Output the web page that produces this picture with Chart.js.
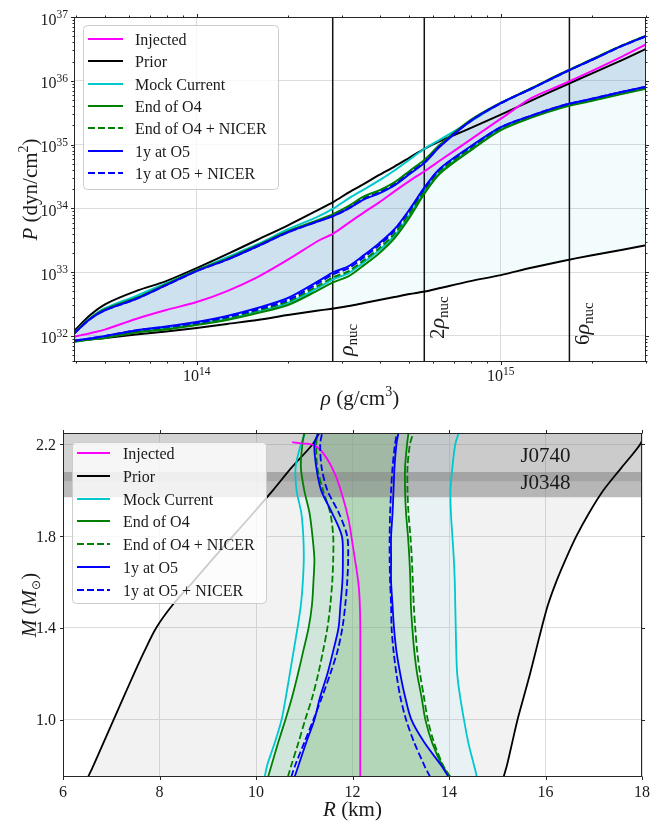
<!DOCTYPE html>
<html><head><meta charset="utf-8">
<script src="https://cdn.jsdelivr.net/npm/chart.js@4.4.1/dist/chart.umd.min.js"></script>
<style>
html,body{margin:0;padding:0;background:#fff;}
body{width:652px;height:823px;position:relative;overflow:hidden;}
canvas{position:absolute;left:0;display:block;}
#c1{top:0;} #c2{top:411px;}
</style></head><body>
<canvas id="c1" width="652" height="411"></canvas>
<canvas id="c2" width="652" height="412"></canvas>
<script>
// ================= DATA =================
const seriesNames = ['Injected','Prior','Mock Current','End of O4','End of O4 + NICER','1y at O5','1y at O5 + NICER'];

// ---- Top panel: pressure vs density (log10 values) ----
const logRho = [13.597,13.65,13.7,13.8,13.9,14.0,14.1,14.2,14.3,14.4,14.45,14.5,14.55,14.6,14.65,14.7,14.75,14.8,14.9,15.0,15.1,15.2,15.3,15.4,15.477];
const injLogP     = [31.988,32.042,32.102,32.266,32.406,32.531,32.703,32.922,33.195,33.492,33.609,33.773,33.938,34.094,34.266,34.43,34.586,34.75,35.078,35.406,35.727,35.938,36.156,36.383,36.57];
const priorHiLogP = [32.078,32.328,32.5,32.703,32.859,33.063,33.281,33.508,33.734,33.977,34.102,34.25,34.383,34.523,34.656,34.797,34.938,35.055,35.258,35.469,35.688,35.906,36.117,36.328,36.5];
const priorLoLogP = [31.923,31.945,31.969,32.023,32.07,32.125,32.188,32.25,32.328,32.398,32.43,32.469,32.516,32.563,32.609,32.656,32.695,32.75,32.859,32.953,33.07,33.172,33.266,33.352,33.422];
const mockHiLogP  = [32.047,32.281,32.438,32.625,32.828,33.031,33.234,33.438,33.672,33.875,34.0,34.156,34.297,34.438,34.594,34.766,34.938,35.078,35.359,35.648,35.875,36.11,36.33,36.55,36.70];
const mockLoLogP  = [31.909,31.945,31.977,32.063,32.117,32.188,32.266,32.383,32.516,32.757,32.891,32.985,33.157,33.344,33.57,33.898,34.273,34.57,34.922,35.242,35.43,35.586,35.696,35.805,35.883];
const o4HiLogP    = [32.047,32.274,32.422,32.594,32.813,33.032,33.211,33.422,33.641,33.82,33.914,34.039,34.188,34.281,34.406,34.586,34.766,35.0,35.383,35.656,35.883,36.118,36.338,36.558,36.708];
const o4LoLogP    = [31.909,31.945,31.969,32.055,32.101,32.172,32.25,32.36,32.485,32.718,32.844,32.938,33.11,33.297,33.531,33.859,34.242,34.547,34.906,35.226,35.422,35.578,35.688,35.797,35.875];
const o4nHiLogP   = [32.043,32.27,32.414,32.586,32.805,33.024,33.203,33.414,33.633,33.808,33.898,34.02,34.164,34.258,34.383,34.562,34.742,34.984,35.375,35.652,35.879,36.114,36.334,36.554,36.704];
const o4nLoLogP   = [31.917,31.953,31.984,32.07,32.125,32.196,32.282,32.399,32.539,32.789,32.922,33.016,33.188,33.375,33.602,33.922,34.289,34.586,34.938,35.25,35.437,35.593,35.703,35.812,35.89];
const o5HiLogP    = [32.039,32.266,32.406,32.578,32.797,33.016,33.195,33.406,33.625,33.797,33.883,34.0,34.141,34.234,34.359,34.539,34.719,34.969,35.367,35.648,35.875,36.11,36.33,36.55,36.70];
const o5LoLogP    = [31.925,31.961,32.0,32.086,32.148,32.219,32.313,32.438,32.594,32.859,33.0,33.094,33.266,33.453,33.672,33.984,34.336,34.625,34.969,35.273,35.453,35.609,35.719,35.828,35.906];
const o5nHiLogP   = [32.039,32.266,32.406,32.578,32.797,33.016,33.195,33.406,33.625,33.797,33.883,34.0,34.145,34.242,34.367,34.547,34.727,34.977,35.367,35.648,35.875,36.11,36.33,36.55,36.70];
const o5nLoLogP   = [31.925,31.961,32.0,32.086,32.14,32.203,32.297,32.415,32.563,32.828,32.969,33.063,33.235,33.422,33.649,33.969,34.32,34.617,34.961,35.273,35.453,35.609,35.719,35.828,35.906];
const rhoNuc = 2.8e14;
const nucMultiples = [1, 2, 6];
const rhoMin = 3.95e13, rhoMax = 3.0e15, pMin = 3.9e31, pMax = 1e37;
const rhoTickExp = [14, 15];
const pTickExp = [32, 33, 34, 35, 36, 37];

// ---- Bottom panel: mass vs radius ----
const mGrid   = [0.75,0.8,0.9,1.0,1.1,1.2,1.3,1.4,1.5,1.6,1.7,1.8,1.9,2.0,2.1,2.2,2.25];
const priorLoR = [6.52,6.63,6.84,7.05,7.26,7.47,7.69,7.93,8.27,8.69,9.10,9.52,9.94,10.35,10.74,11.17,11.31];
const priorHiR = [15.13,15.20,15.31,15.42,15.55,15.68,15.80,15.92,16.05,16.22,16.42,16.64,16.90,17.20,17.58,17.96,18.06];
const mockLoR  = [10.18,10.23,10.39,10.53,10.62,10.70,10.78,10.86,10.93,10.97,10.99,10.98,10.94,10.84,10.82,10.93,11.02];
const mockHiR  = [14.58,14.52,14.40,14.31,14.23,14.17,14.15,14.14,14.13,14.12,14.10,14.07,14.04,14.03,14.07,14.13,14.20];
const o4LoR    = [10.25,10.32,10.46,10.61,10.75,10.87,10.98,11.09,11.16,11.19,11.21,11.17,11.11,11.00,10.93,10.96,11.00];
const o4HiR    = [14.03,13.86,13.65,13.51,13.43,13.34,13.28,13.24,13.21,13.20,13.18,13.15,13.11,13.09,13.09,13.13,13.16];
const o4nLoR   = [10.66,10.73,10.88,11.02,11.17,11.29,11.39,11.48,11.54,11.58,11.60,11.60,11.54,11.39,11.27,11.25,11.27];
const o4nHiR   = [14.03,13.88,13.69,13.56,13.48,13.40,13.34,13.30,13.27,13.25,13.23,13.20,13.16,13.14,13.14,13.19,13.26];
const o5LoR    = [10.80,10.88,11.04,11.21,11.33,11.48,11.60,11.71,11.75,11.79,11.80,11.78,11.58,11.35,11.25,11.21,11.29];
const o5HiR    = [13.99,13.84,13.49,13.22,13.09,12.99,12.91,12.86,12.83,12.80,12.80,12.80,12.83,12.85,12.87,12.91,12.95];
const o5nLoR   = [10.73,10.81,11.00,11.19,11.37,11.54,11.69,11.79,11.85,11.89,11.91,11.89,11.72,11.48,11.36,11.33,11.37];
const o5nHiR   = [13.61,13.49,13.28,13.11,12.99,12.91,12.85,12.81,12.80,12.78,12.77,12.77,12.78,12.80,12.83,12.88,12.92];
const injM = [0.75,1.1,1.43,1.58,1.74,1.87,1.97,2.07,2.16,2.197,2.205,2.21];
const injR = [12.16,12.16,12.16,12.13,12.02,11.92,11.80,11.64,11.40,11.20,10.95,10.75];
const bandNames = ['J0740', 'J0348'];
const bandLo = [2.04, 1.97];
const bandHi = [2.30, 2.08];
const rMin = 6, rMax = 18, mMin = 0.75, mMax = 2.25;
const rTicks = [6, 8, 10, 12, 14, 16, 18];
const mTicks = [1.0, 1.4, 1.8, 2.2];

// ================= STYLE =================
const seriesColors = ['#ff00ff','#000000','#00c8cc','#008000','#008000','#0000ff','#0000ff'];
const seriesDashed = [false,false,false,false,true,false,true];
const DASH = [7, 3];
const GRID = '#dcdcdc';
const TXT = '#1a1a1a';
const SERIF = '"Liberation Serif","DejaVu Serif",serif';
const fnt = (px, it) => (it ? 'italic ' : '') + px + 'px ' + SERIF;

function drawRuns(ctx, parts, x, y, align) {
  let w = 0;
  for (const p of parts) { ctx.font = p.f; p.w = ctx.measureText(p.t).width; w += p.w; }
  let cx = align === 'center' ? x - w / 2 : (align === 'right' ? x - w : x);
  ctx.textAlign = 'left'; ctx.textBaseline = 'alphabetic'; ctx.fillStyle = TXT;
  for (const p of parts) { ctx.font = p.f; ctx.fillText(p.t, cx, y + (p.dy || 0)); cx += p.w; }
}
function drawRotRuns(ctx, parts, x, y, align) {
  ctx.save(); ctx.translate(x, y); ctx.rotate(-Math.PI / 2); drawRuns(ctx, parts, 0, 0, align); ctx.restore();
}
function rrect(ctx, x, y, w, h, r) {
  ctx.beginPath();
  ctx.moveTo(x + r, y); ctx.lineTo(x + w - r, y); ctx.quadraticCurveTo(x + w, y, x + w, y + r);
  ctx.lineTo(x + w, y + h - r); ctx.quadraticCurveTo(x + w, y + h, x + w - r, y + h);
  ctx.lineTo(x + r, y + h); ctx.quadraticCurveTo(x, y + h, x, y + h - r);
  ctx.lineTo(x, y + r); ctx.quadraticCurveTo(x, y, x + r, y); ctx.closePath();
}
function drawLegend(ctx, bx, by, bw, bh, y0, dy, lx0, lx1, tx) {
  ctx.save();
  rrect(ctx, bx + 0.5, by + 0.5, bw, bh, 4);
  ctx.fillStyle = 'rgba(255,255,255,0.8)'; ctx.fill();
  ctx.strokeStyle = '#cccccc'; ctx.lineWidth = 1; ctx.stroke();
  seriesNames.forEach((name, i) => {
    const y = Math.round(y0 + i * dy);
    ctx.beginPath(); ctx.setLineDash(seriesDashed[i] ? DASH : []);
    ctx.strokeStyle = seriesColors[i]; ctx.lineWidth = 2;
    ctx.moveTo(lx0, y); ctx.lineTo(lx1, y); ctx.stroke();
    ctx.setLineDash([]);
    drawRuns(ctx, [{ t: name, f: fnt(16) }], tx, y + 5.5, 'left');
  });
  ctx.restore();
}
function frameAndTicks(ctx, ca, xp, yp) {
  ctx.save();
  ctx.strokeStyle = '#262626'; ctx.lineWidth = 1;
  const L = Math.round(ca.left) + 0.5, T = Math.round(ca.top) + 0.5, R = Math.round(ca.right) - 0.5, B = Math.round(ca.bottom) - 0.5;
  ctx.strokeRect(L, T, R - L, B - T);
  ctx.beginPath();
  for (const [p, l] of xp) { const X = Math.round(p) + 0.5; ctx.moveTo(X, B); ctx.lineTo(X, B + l); ctx.moveTo(X, T); ctx.lineTo(X, T - l); }
  for (const [p, l] of yp) { const Y = Math.round(p) + 0.5; ctx.moveTo(L, Y); ctx.lineTo(L - l, Y); ctx.moveTo(R, Y); ctx.lineTo(R + l, Y); }
  ctx.stroke();
  ctx.restore();
}

// ================= TOP CHART =================
const rhoVals = logRho.map(v => Math.pow(10, v));
const eos = lp => lp.map((v, i) => ({ x: rhoVals[i], y: Math.pow(10, v) }));
function LN(data, ci, order, width, extra) {
  return Object.assign({ label: seriesNames[ci], data, borderColor: seriesColors[ci], borderWidth: width,
    borderDash: seriesDashed[ci] ? DASH : [], fill: false, backgroundColor: 'transparent', order, tension: 0.3, pointRadius: 0 }, extra || {});
}
const topDS = [
  LN(eos(injLogP), 0, 20, 2),
  LN(eos(priorHiLogP), 1, 50, 2, { fill: '+1', backgroundColor: 'rgba(0,191,191,0.05)' }),
  LN(eos(priorLoLogP), 1, 50, 2),
  LN(eos(mockHiLogP), 2, 40, 2),
  LN(eos(mockLoLogP), 2, 40, 2),
  LN(eos(o4HiLogP), 3, 30, 2),
  LN(eos(o4LoLogP), 3, 30, 2),
  LN(eos(o4nHiLogP), 4, 25, 2),
  LN(eos(o4nLoLogP), 4, 25, 2),
  LN(eos(o5HiLogP), 5, 15, 2, { fill: '+1', backgroundColor: 'rgba(90,147,195,0.25)' }),
  LN(eos(o5LoLogP), 5, 15, 2),
  LN(eos(o5nHiLogP), 6, 10, 2),
  LN(eos(o5nLoLogP), 6, 10, 2),
].concat(nucMultiples.map(m => ({ label: 'nuc', data: [{ x: m * rhoNuc, y: pMin }, { x: m * rhoNuc, y: pMax }],
  borderColor: '#111111', borderWidth: 1.5, fill: false, order: 60, tension: 0, pointRadius: 0 })));

const nucLabelBottom = [356, 339, 345];
const topDeco = {
  id: 'topDeco',
  afterDraw(chart) {
    const ctx = chart.ctx, ca = chart.chartArea, xs = chart.scales.x, ys = chart.scales.y;
    nucMultiples.forEach((m, i) => {
      const x = xs.getPixelForValue(m * rhoNuc);
      const parts = (m === 1 ? [] : [{ t: String(m), f: fnt(21) }]).concat([{ t: 'ρ', f: fnt(22, true) }, { t: 'nuc', f: fnt(15), dy: 4 }]);
      drawRotRuns(ctx, parts, x + 20, nucLabelBottom[i], 'left');
    });
    const xp = [], yp = [];
    for (let e = 13; e <= 15; e++) for (let k = 1; k <= 9; k++) {
      const v = k * Math.pow(10, e);
      if (v >= rhoMin * 0.999 && v <= rhoMax * 1.001) xp.push([xs.getPixelForValue(v), k === 1 ? 3.5 : 2]);
    }
    for (let e = 31; e <= 37; e++) for (let k = 1; k <= 9; k++) {
      const v = k * Math.pow(10, e);
      if (v >= pMin && v <= pMax * 1.001) yp.push([ys.getPixelForValue(v), k === 1 ? 3.5 : 2]);
    }
    frameAndTicks(ctx, ca, xp, yp);
    pTickExp.forEach(e => {
      const y = ys.getPixelForValue(Math.pow(10, e));
      drawRuns(ctx, [{ t: '10', f: fnt(16) }, { t: String(e), f: fnt(11.5), dy: -6.5 }], ca.left - 6, y + 7.5, 'right');
    });
    rhoTickExp.forEach(e => {
      const x = xs.getPixelForValue(Math.pow(10, e));
      drawRuns(ctx, [{ t: '10', f: fnt(16) }, { t: String(e), f: fnt(11.5), dy: -6.5 }], x, ca.bottom + 19, 'center');
    });
    drawRuns(ctx, [{ t: 'ρ', f: fnt(21, true) }, { t: ' (g/cm', f: fnt(21) }, { t: '3', f: fnt(14), dy: -9 }, { t: ')', f: fnt(21) }],
      (ca.left + ca.right) / 2, 405, 'center');
    drawRotRuns(ctx, [{ t: 'P', f: fnt(21, true) }, { t: ' (dyn/cm', f: fnt(21) }, { t: '2', f: fnt(14), dy: -9 }, { t: ')', f: fnt(21) }],
      37, (ca.top + ca.bottom) / 2, 'center');
    drawLegend(ctx, 83, 25, 195, 164, 39, 22.35, 88, 123, 135);
  }
};

new Chart(document.getElementById('c1'), {
  type: 'line',
  data: { datasets: topDS },
  options: {
    responsive: false, animation: false, devicePixelRatio: 1, events: [],
    layout: { padding: { left: 74, right: 6, top: 17, bottom: 49 } },
    plugins: { legend: { display: false }, tooltip: { enabled: false }, filler: { propagate: false, drawTime: 'beforeDatasetsDraw' } },
    elements: { point: { radius: 0, hitRadius: 0 }, line: { borderJoinStyle: 'round' } },
    scales: {
      x: { type: 'logarithmic', min: rhoMin, max: rhoMax, ticks: { display: false }, grid: { color: GRID, drawTicks: false }, border: { display: false },
        afterBuildTicks: s => { s.ticks = rhoTickExp.map(e => ({ value: Math.pow(10, e) })); } },
      y: { type: 'logarithmic', min: pMin, max: pMax, ticks: { display: false }, grid: { color: GRID, drawTicks: false }, border: { display: false },
        afterBuildTicks: s => { s.ticks = pTickExp.map(e => ({ value: Math.pow(10, e) })); } }
    }
  },
  plugins: [topDeco]
});

// ================= BOTTOM CHART =================
const mr = (rs, ms) => rs.map((r, i) => ({ x: r, y: ms[i] }));
const poly = (lo, hi) => mr(lo, mGrid).concat(mr(hi, mGrid).reverse());
const FILL = (data, bg, order, tension) => ({ label: 'fill', data, borderColor: 'transparent', borderWidth: 0, backgroundColor: bg, fill: 'shape', order, tension, pointRadius: 0 });
const bandColors = ['rgba(128,128,128,0.35)', 'rgba(128,128,128,0.53)'];
const botDS = [
  FILL(poly(priorLoR, priorHiR), 'rgba(128,128,128,0.1)', 100, 0.3),
  FILL(poly(mockLoR, mockHiR), 'rgba(175,235,249,0.15)', 90, 0.3),
  FILL(poly(o4LoR, o4HiR), 'rgba(122,191,118,0.2)', 80, 0.3),
  FILL(poly(o5LoR, o5HiR), 'rgba(90,167,86,0.25)', 70, 0.3),
].concat(bandNames.map((n, i) => FILL([{ x: rMin - 1, y: bandLo[i] }, { x: rMax + 1, y: bandLo[i] }, { x: rMax + 1, y: bandHi[i] }, { x: rMin - 1, y: bandHi[i] }], bandColors[i], 60 - i * 5, 0)))
.concat([
  LN(mr(injR, injM), 0, 20, 1.8),
  LN(mr(priorLoR, mGrid), 1, 50, 1.8), LN(mr(priorHiR, mGrid), 1, 50, 1.8),
  LN(mr(mockLoR, mGrid), 2, 40, 1.8), LN(mr(mockHiR, mGrid), 2, 40, 1.8),
  LN(mr(o4LoR, mGrid), 3, 30, 1.8), LN(mr(o4HiR, mGrid), 3, 30, 1.8),
  LN(mr(o4nLoR, mGrid), 4, 25, 1.8), LN(mr(o4nHiR, mGrid), 4, 25, 1.8),
  LN(mr(o5LoR, mGrid), 5, 15, 1.8), LN(mr(o5HiR, mGrid), 5, 15, 1.8),
  LN(mr(o5nLoR, mGrid), 6, 10, 1.8), LN(mr(o5nHiR, mGrid), 6, 10, 1.8)
]);

const botDeco = {
  id: 'botDeco',
  afterDraw(chart) {
    const ctx = chart.ctx, ca = chart.chartArea, xs = chart.scales.x, ys = chart.scales.y;
    bandNames.forEach((n, i) => {
      const lo = Math.max(bandLo[i], mMin), hi = Math.min(bandHi[i], mMax);
      const y = ys.getPixelForValue((lo + hi) / 2 + 0.01);
      drawRuns(ctx, [{ t: n, f: fnt(21) }], xs.getPixelForValue(16), y + 7, 'center');
    });
    frameAndTicks(ctx, ca, rTicks.map(v => [xs.getPixelForValue(v), 3.5]), mTicks.map(v => [ys.getPixelForValue(v), 3.5]));
    mTicks.forEach(v => drawRuns(ctx, [{ t: v.toFixed(1), f: fnt(16) }], ca.left - 7, ys.getPixelForValue(v) + 5.5, 'right'));
    rTicks.forEach(v => drawRuns(ctx, [{ t: String(v), f: fnt(16) }], xs.getPixelForValue(v), ca.bottom + 20, 'center'));
    drawRuns(ctx, [{ t: 'R', f: fnt(21, true) }, { t: ' (km)', f: fnt(21) }], (ca.left + ca.right) / 2, 405, 'center');
    drawRotRuns(ctx, [{ t: 'M', f: fnt(21, true) }, { t: ' (', f: fnt(21) }, { t: 'M', f: fnt(21, true) },
      { t: '⊙', f: '12px "DejaVu Sans"', dy: 4 }, { t: ')', f: fnt(21) }],
      36, (ca.top + ca.bottom) / 2, 'center');
    drawLegend(ctx, 72, 31, 194, 161, 42, 22.8, 77, 110, 123);
  }
};

new Chart(document.getElementById('c2'), {
  type: 'line',
  data: { datasets: botDS },
  options: {
    responsive: false, animation: false, devicePixelRatio: 1, events: [],
    layout: { padding: { left: 63, right: 10, top: 22, bottom: 46 } },
    plugins: { legend: { display: false }, tooltip: { enabled: false }, filler: { propagate: false, drawTime: 'beforeDatasetsDraw' } },
    elements: { point: { radius: 0, hitRadius: 0 }, line: { borderJoinStyle: 'round' } },
    scales: {
      x: { type: 'linear', min: rMin, max: rMax, ticks: { display: false }, grid: { color: GRID, drawTicks: false }, border: { display: false },
        afterBuildTicks: s => { s.ticks = rTicks.map(v => ({ value: v })); } },
      y: { type: 'linear', min: mMin, max: mMax, ticks: { display: false }, grid: { color: GRID, drawTicks: false }, border: { display: false },
        afterBuildTicks: s => { s.ticks = mTicks.map(v => ({ value: v })); } }
    }
  },
  plugins: [botDeco]
});
</script>
</body></html>
